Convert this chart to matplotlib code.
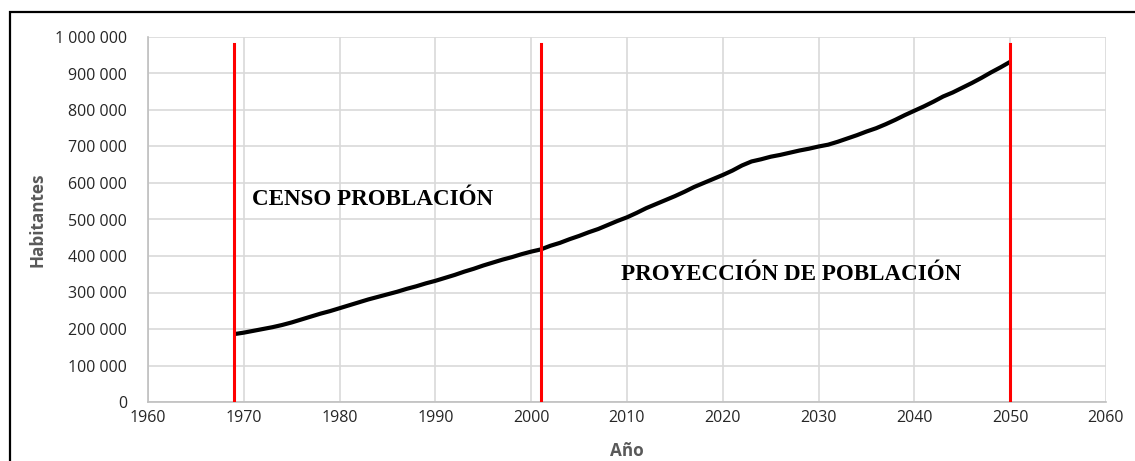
import matplotlib
matplotlib.use("Agg")
import matplotlib.pyplot as plt
from matplotlib.patches import Rectangle
from matplotlib.ticker import FuncFormatter, MultipleLocator

# Population by year (inhabitants)
years = list(range(1969, 2051))
population = [
    186000, 190000, 195000, 200000, 205000, 211000, 218000, 226000, 234000, 242000,
    249000, 257000, 265000, 273000, 281000, 288000, 295000, 302000, 310000, 317000,
    325000, 332000, 340000, 348000, 357000, 365000, 374000, 382000, 390000, 397000,
    405000, 412000, 418000, 428000, 436000, 446000, 455000, 465000, 474000, 485000,
    496000, 506000, 518000, 531000, 542000, 553000, 564000, 576000, 589000, 600000,
    611000, 622000, 634000, 648000, 659000, 665000, 672000, 677000, 683000, 689000,
    694000, 700000, 705000, 713000, 722000, 731000, 741000, 750000, 761000, 773000,
    786000, 798000, 810000, 823000, 837000, 848000, 861000, 874000, 888000, 903000,
    917000, 932000,
]

# Period boundaries (census start, census end / projection start, projection end)
boundary_years = [1969, 2001, 2050]
boundary_top = 980000

period_labels = ["CENSO PROBLACIÓN", "PROYECCIÓN DE POBLACIÓN"]
period_label_pos = [(1970.9, 554000), (2009.4, 350000)]

x_label = "Año"
y_label = "Habitantes"

fig = plt.figure(figsize=(11.35, 4.61), dpi=100)
ax = fig.add_axes([148 / 1135, 59 / 461, (1106 - 148) / 1135, (402 - 37) / 461])

# Outer frame
fig.patches.append(Rectangle((10 / 1135, -0.2), 1.2, (461 - 12) / 461 + 0.2,
                             transform=fig.transFigure, fill=False,
                             edgecolor="black", linewidth=1.6, zorder=0))

ax.set_xlim(1960, 2060)
ax.set_ylim(0, 1000000)
ax.xaxis.set_major_locator(MultipleLocator(10))
ax.yaxis.set_major_locator(MultipleLocator(100000))
ax.yaxis.set_major_formatter(FuncFormatter(lambda v, p: f"{v:,.0f}".replace(",", " ")))

ax.grid(True, color="#d9d9d9", linewidth=1.2, zorder=0)
ax.set_axisbelow(True)
for side in ["top", "right"]:
    ax.spines[side].set_visible(False)
for side in ["left", "bottom"]:
    ax.spines[side].set_color("#bfbfbf")
    ax.spines[side].set_linewidth(1.2)

ax.tick_params(axis="both", length=0, labelsize=11.5, labelcolor="#262626")
ax.tick_params(axis="y", pad=15)
ax.tick_params(axis="x", pad=6)
for lbl in ax.get_xticklabels() + ax.get_yticklabels():
    lbl.set_fontfamily("Open Sans")

ax.set_xlabel(x_label, fontsize=12.3, fontweight="bold", color="#595959",
              family="Open Sans", labelpad=11)
ax.set_ylabel(y_label, fontsize=12.3, fontweight="bold", color="#595959",
              family="Open Sans", labelpad=6)

ax.plot(years, population, color="black", linewidth=3.0, zorder=3,
        solid_capstyle="butt")

for by in boundary_years:
    ax.plot([by, by], [0, boundary_top], color="#ff0000", linewidth=2.2, zorder=4)

for text, (tx, ty) in zip(period_labels, period_label_pos):
    ax.text(tx, ty, text, fontsize=16.6, fontweight="bold", family="Liberation Serif",
            color="black", ha="left", va="center", zorder=5)

fig.savefig("out.png", dpi=100)
